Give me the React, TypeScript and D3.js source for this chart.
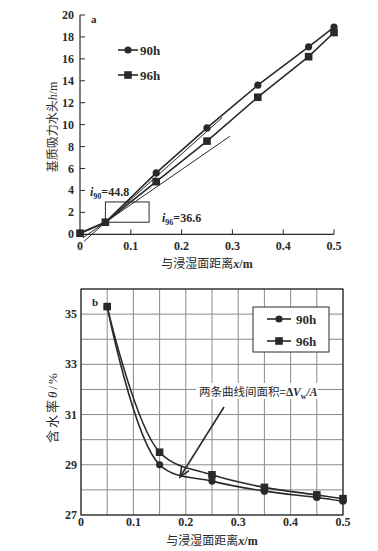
import React from "react";
import * as d3 from "d3";

// Chart a data
const xA90 = [0, 0.05, 0.15, 0.25, 0.35, 0.45, 0.5];
const hA90 = [0.1, 1.1, 5.6, 9.7, 13.6, 17.1, 18.9];
const xA96 = [0, 0.05, 0.15, 0.25, 0.35, 0.45, 0.5];
const hA96 = [0.1, 1.1, 4.8, 8.5, 12.5, 16.2, 18.4];
const tangentPivot = [0.05, 1.1];
const tangentSlopes = [41.5, 32];
const tangentStart = [0.008, 0.006];
const tangentEnd = [0.28, 0.295];
const rectBox = [0.05, 1.1, 0.136, 2.95];
const xTicksA = [0, 0.1, 0.2, 0.3, 0.4, 0.5];
const yTicksA = [0, 2, 4, 6, 8, 10, 12, 14, 16, 18, 20];

// Chart b data
const xB90 = [0.05, 0.15, 0.25, 0.35, 0.45, 0.5];
const tB90 = [35.3, 29.0, 28.35, 27.95, 27.7, 27.55];
const xB96 = [0.05, 0.15, 0.25, 0.35, 0.45, 0.5];
const tB96 = [35.3, 29.5, 28.6, 28.1, 27.8, 27.65];
const xTicksB = [0, 0.1, 0.2, 0.3, 0.4, 0.5];
const yTicksB = [27, 29, 31, 33, 35];
const xGridB = d3.range(0, 0.501, 0.05);
const yGridB = d3.range(27, 36.01, 1);

const serif = "'Liberation Serif', 'DejaVu Serif', serif";
const cjk = "'Noto Sans CJK SC', sans-serif";
const ink = "#2a2a2a";

export default function App() {
  const xA = d3.scaleLinear().domain([0, 0.5]).range([80, 334]);
  const yA = d3.scaleLinear().domain([0, 20]).range([234.3, 15]);
  const xB = d3.scaleLinear().domain([0, 0.5]).range([81, 343]);
  const yB = d3.scaleLinear().domain([27, 36]).range([515, 289]);

  const lineA = d3.line<[number, number]>().x((d) => xA(d[0])).y((d) => yA(d[1]));
  const lineB = d3
    .line<[number, number]>()
    .x((d) => xB(d[0]))
    .y((d) => yB(d[1]))
    .curve(d3.curveCatmullRom.alpha(0.5));

  const pA90 = xA90.map((x, i) => [x, hA90[i]] as [number, number]);
  const pA96 = xA96.map((x, i) => [x, hA96[i]] as [number, number]);
  const pB90 = xB90.map((x, i) => [x, tB90[i]] as [number, number]);
  const pB96 = xB96.map((x, i) => [x, tB96[i]] as [number, number]);

  const circle = (cx: number, cy: number, k: string) => (
    <circle key={k} cx={cx} cy={cy} r={3.6} fill={ink} />
  );
  const square = (cx: number, cy: number, k: string) => (
    <rect key={k} x={cx - 3.8} y={cy - 3.8} width={7.6} height={7.6} fill={ink} />
  );

  // arrow for chart b
  const ax0 = 224, ay0 = 407, ax1 = 180, ay1 = 477;
  const ang = Math.atan2(ay1 - ay0, ax1 - ax0);
  const ah = 11, aw = 0.4;
  const head = [
    [ax1 - ah * Math.cos(ang - aw), ay1 - ah * Math.sin(ang - aw)],
    [ax1, ay1],
    [ax1 - ah * Math.cos(ang + aw), ay1 - ah * Math.sin(ang + aw)],
  ];

  return (
    <svg
      width={378}
      height={551}
      style={{ position: "absolute", left: 0, top: 0, background: "#fff" }}
    >
      {/* ---------- Chart a ---------- */}
      <g>
        <line x1={xA(0)} x2={xA(0)} y1={yA(0)} y2={yA(20)} stroke={ink} strokeWidth={1.2} />
        <line x1={xA(0)} x2={xA(0.5)} y1={yA(0)} y2={yA(0)} stroke={ink} strokeWidth={1.2} />
        {xTicksA.map((t) => (
          <g key={"xa" + t}>
            <line x1={xA(t)} x2={xA(t)} y1={yA(0)} y2={yA(0) - 5} stroke={ink} strokeWidth={1} />
            <text
              x={xA(t)}
              y={yA(0) + 16}
              textAnchor="middle"
              fontFamily={serif}
              fontWeight="bold"
              fontSize={12}
              fill={ink}
            >
              {t === 0 ? "0" : t.toFixed(1)}
            </text>
          </g>
        ))}
        {yTicksA.map((t) => (
          <g key={"ya" + t}>
            <line x1={xA(0)} x2={xA(0) + 5} y1={yA(t)} y2={yA(t)} stroke={ink} strokeWidth={1} />
            <text
              x={xA(0) - 6}
              y={yA(t) + 4}
              textAnchor="end"
              fontFamily={serif}
              fontWeight="bold"
              fontSize={12}
              fill={ink}
            >
              {t}
            </text>
          </g>
        ))}
        {tangentSlopes.map((s, i) => {
          const y0 = tangentPivot[1] + s * (tangentStart[i] - tangentPivot[0]);
          const y1 = tangentPivot[1] + s * (tangentEnd[i] - tangentPivot[0]);
          return (
            <line
              key={"tan" + i}
              x1={xA(tangentStart[i])}
              y1={yA(y0)}
              x2={xA(tangentEnd[i])}
              y2={yA(y1)}
              stroke={ink}
              strokeWidth={1}
            />
          );
        })}
        <rect
          x={xA(rectBox[0])}
          y={yA(rectBox[3])}
          width={xA(rectBox[2]) - xA(rectBox[0])}
          height={yA(rectBox[1]) - yA(rectBox[3])}
          fill="none"
          stroke={ink}
          strokeWidth={1}
        />
        <path d={lineA(pA90) || ""} fill="none" stroke={ink} strokeWidth={1.6} />
        <path d={lineA(pA96) || ""} fill="none" stroke={ink} strokeWidth={1.6} />
        {pA90.slice(1).map((d, i) => circle(xA(d[0]), yA(d[1]), "ca" + i))}
        {pA96.map((d, i) => square(xA(d[0]), yA(d[1]), "sa" + i))}
        <text x={90} y={196} fontFamily={serif} fontWeight="bold" fontSize={12} fill={ink}>
          <tspan fontStyle="italic">i</tspan>
          <tspan fontSize={8} dy={3}>90</tspan>
          <tspan dy={-3}>=44.8</tspan>
        </text>
        <text x={162} y={222} fontFamily={serif} fontWeight="bold" fontSize={12} fill={ink}>
          <tspan fontStyle="italic">i</tspan>
          <tspan fontSize={8} dy={3}>96</tspan>
          <tspan dy={-3}>=36.6</tspan>
        </text>
        <text x={91} y={23} fontFamily={serif} fontWeight="bold" fontSize={11} fill={ink}>
          a
        </text>
        <line x1={118} x2={138} y1={50} y2={50} stroke={ink} strokeWidth={1.6} />
        {circle(128, 50, "lga")}
        <text x={140} y={54.5} fontFamily={serif} fontWeight="bold" fontSize={13} fill={ink}>
          90h
        </text>
        <line x1={118} x2={138} y1={75} y2={75} stroke={ink} strokeWidth={1.6} />
        {square(128, 75, "lgb")}
        <text x={140} y={79.5} fontFamily={serif} fontWeight="bold" fontSize={13} fill={ink}>
          96h
        </text>
        <text
          transform={`translate(57,127) rotate(-90)`}
          textAnchor="middle"
          fontFamily={cjk}
          fontSize={12}
          fill={ink}
        >
          基质吸力水头<tspan fontFamily={serif} fontStyle="italic">h</tspan>
          <tspan fontFamily={serif}>/m</tspan>
        </text>
        <text x={207} y={268} textAnchor="middle" fontFamily={cjk} fontSize={12} fill={ink}>
          与浸湿面距离<tspan fontFamily={serif} fontStyle="italic" fontWeight="bold">x</tspan>
          <tspan fontFamily={serif} fontWeight="bold">/m</tspan>
        </text>
      </g>

      {/* ---------- Chart b ---------- */}
      <g>
        {xGridB.map((g, i) => (
          <line
            key={"gx" + i}
            x1={xB(g)}
            x2={xB(g)}
            y1={yB(27)}
            y2={yB(36)}
            stroke="#8a8a8a"
            strokeWidth={1}
          />
        ))}
        {yGridB.map((g, i) => (
          <line
            key={"gy" + i}
            x1={xB(0)}
            x2={xB(0.5)}
            y1={yB(g)}
            y2={yB(g)}
            stroke="#8a8a8a"
            strokeWidth={1}
          />
        ))}
        <rect
          x={xB(0)}
          y={yB(36)}
          width={xB(0.5) - xB(0)}
          height={yB(27) - yB(36)}
          fill="none"
          stroke={ink}
          strokeWidth={1.2}
        />
        {xTicksB.map((t) => (
          <text
            key={"xb" + t}
            x={xB(t)}
            y={yB(27) + 11}
            textAnchor="middle"
            fontFamily={serif}
            fontWeight="bold"
            fontSize={12}
            fill={ink}
          >
            {t === 0 ? "0" : t.toFixed(1)}
          </text>
        ))}
        {yTicksB.map((t) => (
          <text
            key={"yb" + t}
            x={xB(0) - 4}
            y={yB(t) + 4}
            textAnchor="end"
            fontFamily={serif}
            fontWeight="bold"
            fontSize={12}
            fill={ink}
          >
            {t}
          </text>
        ))}
        <rect x={253} y={307} width={76} height={45} fill="#fff" stroke={ink} strokeWidth={1} />
        <line x1={267} x2={291} y1={319} y2={319} stroke={ink} strokeWidth={1.6} />
        {circle(279, 319, "lgc")}
        <text x={296} y={323.5} fontFamily={serif} fontWeight="bold" fontSize={13} fill={ink}>
          90h
        </text>
        <line x1={267} x2={291} y1={341} y2={341} stroke={ink} strokeWidth={1.6} />
        {square(279, 341, "lgd")}
        <text x={296} y={345.5} fontFamily={serif} fontWeight="bold" fontSize={13} fill={ink}>
          96h
        </text>
        <rect x={196} y={383} width={122} height={16} fill="#fff" />
        <text x={199} y={396} fontFamily={cjk} fontSize={11.5} fill={ink}>
          两条曲线间面积=
          <tspan fontFamily={serif} fontWeight="bold">Δ</tspan>
          <tspan fontFamily={serif} fontWeight="bold" fontStyle="italic">V</tspan>
          <tspan fontFamily={serif} fontWeight="bold" fontSize={8} dy={3}>w</tspan>
          <tspan fontFamily={serif} fontWeight="bold" fontStyle="italic" dy={-3}>/A</tspan>
        </text>
        <path d={lineB(pB90) || ""} fill="none" stroke={ink} strokeWidth={1.6} />
        <path d={lineB(pB96) || ""} fill="none" stroke={ink} strokeWidth={1.6} />
        {pB90.map((d, i) => circle(xB(d[0]), yB(d[1]), "cb" + i))}
        {pB96.map((d, i) => square(xB(d[0]), yB(d[1]), "sb" + i))}
        <line x1={ax0} y1={ay0} x2={ax1} y2={ay1} stroke={ink} strokeWidth={1.6} />
        <polyline
          points={head.map((p) => p.join(",")).join(" ")}
          fill="none"
          stroke={ink}
          strokeWidth={1.6}
        />
        <text x={92} y={306} fontFamily={serif} fontWeight="bold" fontSize={11} fill={ink}>
          b
        </text>
        <text
          transform={`translate(57,407) rotate(-90)`}
          textAnchor="middle"
          fontFamily={cjk}
          fontSize={13}
          letterSpacing={2}
          fill={ink}
        >
          含水率<tspan fontFamily={serif} fontStyle="italic">θ</tspan>
          <tspan fontFamily={serif}>/%</tspan>
        </text>
        <text x={212} y={545} textAnchor="middle" fontFamily={cjk} fontSize={12} fill={ink}>
          与浸湿面距离<tspan fontFamily={serif} fontStyle="italic" fontWeight="bold">x</tspan>
          <tspan fontFamily={serif} fontWeight="bold">/m</tspan>
        </text>
      </g>
    </svg>
  );
}
